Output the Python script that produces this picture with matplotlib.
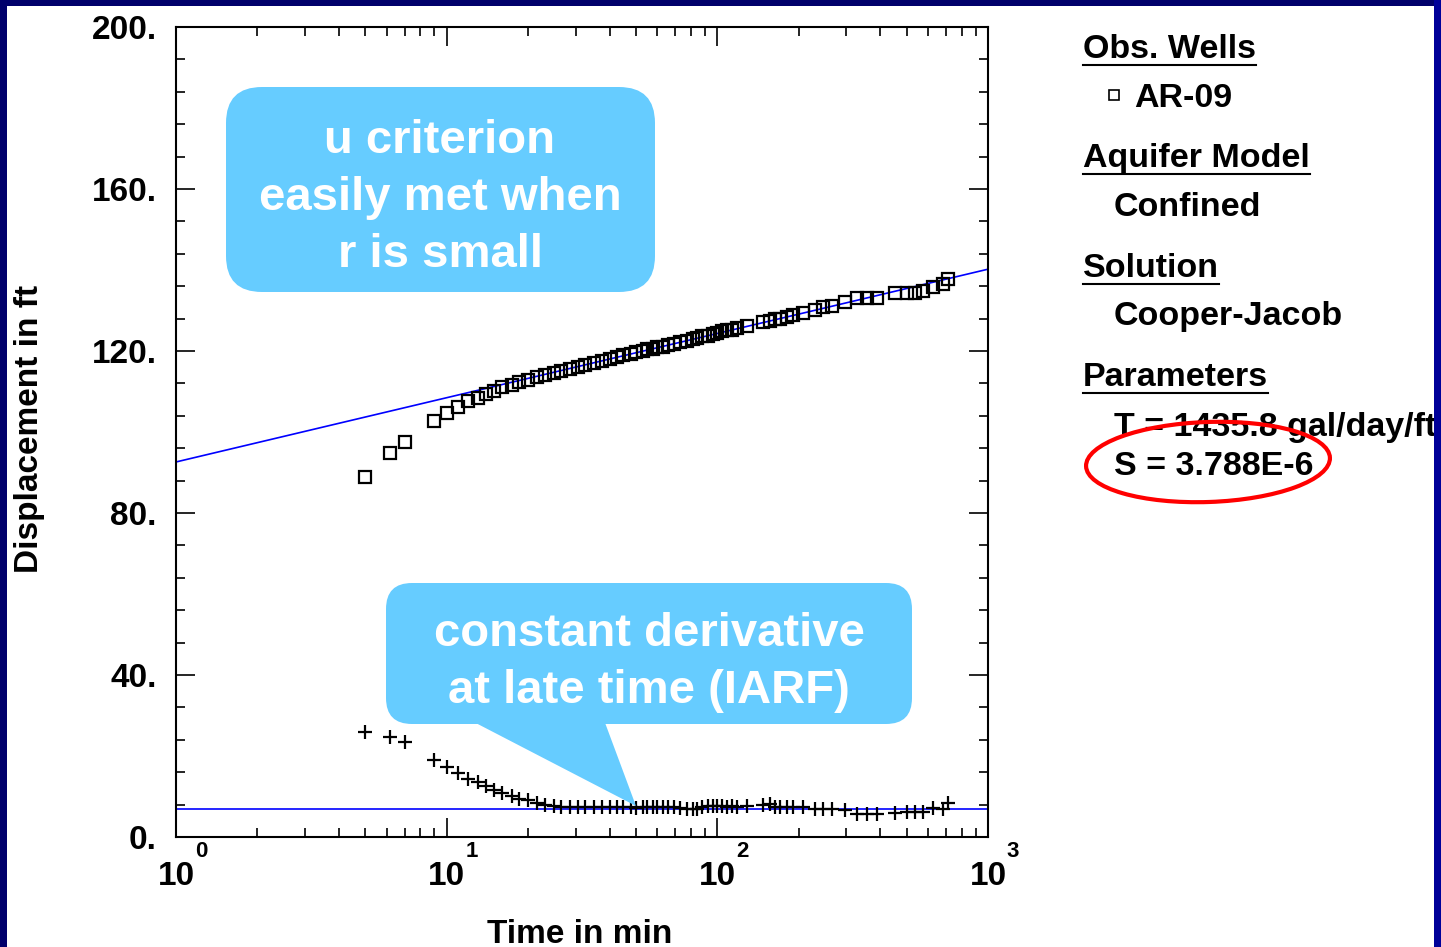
import matplotlib
matplotlib.use("Agg")
import matplotlib.pyplot as plt
from matplotlib.patches import FancyBboxPatch, Polygon, Rectangle, Ellipse
from matplotlib.lines import Line2D
from matplotlib.transforms import Affine2D, offset_copy
from matplotlib.ticker import FixedLocator, LogLocator, NullFormatter

# ---------------- data ----------------
time_min = [5, 6.2, 7, 9, 10, 11, 12, 13, 14, 15,
            16, 17.5, 18.5, 20, 21.5, 23, 25, 26.5, 28.5, 30.5,
            32.5, 35, 37.5, 40, 42.5, 45, 48, 50, 53, 55,
            58, 60, 63, 66, 69, 73, 77, 81, 84, 88,
            92, 96, 100, 104, 109, 113, 118, 129,
            148, 157, 163, 171, 181, 190, 207, 230, 246, 265,
            296, 328, 358, 389, 453, 502, 538, 575, 626, 682,
            711]
displacement = [88.9, 94.9, 97.5, 102.7, 104.6, 106.2, 107.7, 108.5, 109.3, 110.1,
                111.0, 111.7, 112.3, 112.9, 113.5, 114.0, 114.6, 115.1, 115.6, 116.0,
                116.5, 117.0, 117.6, 118.1, 118.5, 119.0, 119.3, 119.7, 120.0, 120.4,
                120.6, 121.0, 121.1, 121.5, 121.8, 122.3, 122.5, 122.9, 123.3, 123.6,
                123.8, 124.2, 124.5, 124.9, 125.1, 125.3, 125.6, 126.1,
                127.2, 127.5, 127.8, 128.0, 128.4, 128.9, 129.5, 130.2, 130.8, 131.2,
                132.2, 133.0, 133.2, 133.2, 134.2, 134.2, 134.3, 134.9, 135.9, 136.5,
                137.8]
derivative = [26.0, 24.8, 23.4, 19.0, 17.4, 15.7, 14.3, 13.5, 12.6, 11.6,
              10.8, 10.1, 9.3, 9.1, 8.5, 7.9, 7.7, 7.4, 7.3, 7.3,
              7.3, 7.3, 7.3, 7.3, 7.3, 7.3, 7.3, 7.2, 7.4, 7.3,
              7.3, 7.3, 7.3, 7.3, 7.3, 7.2, 7.0, 6.8, 6.9, 7.3,
              7.6, 7.6, 7.7, 7.6, 7.5, 7.6, 7.5, 7.6,
              7.8, 8.1, 7.5, 7.4, 7.4, 7.4, 7.5, 6.9, 6.8, 6.9,
              6.7, 5.8, 5.8, 5.8, 5.9, 6.2, 6.2, 6.2, 7.2, 6.8,
              8.3]
fit_time = [1, 1000]
fit_displacement = [92.6, 140.2]
fit_derivative = [6.9, 6.9]

y_ticks = [0, 40, 80, 120, 160, 200]
y_labels = ["0.", "40.", "80.", "120.", "160.", "200."]
x_ticks = [1, 10, 100, 1000]
x_exponents = ["0", "1", "2", "3"]

legend_items = [
    ("Obs. Wells", True), ("AR-09", False), ("Aquifer Model", True), ("Confined", False),
    ("Solution", True), ("Cooper-Jacob", False), ("Parameters", True),
    ("T = 1435.8 gal/day/ft", False), ("S = 3.788E-6", False),
]
callout1 = ["u criterion", "easily met when", "r is small"]
callout2 = ["constant derivative", "at late time (IARF)"]

# ---------------- figure ----------------
W, H = 1441, 947
plt.rcParams['font.family'] = ['Liberation Sans', 'DejaVu Sans']
plt.rcParams['font.weight'] = 'bold'
fig = plt.figure(figsize=(W / 100, H / 100), dpi=100, facecolor='white')
PX = Affine2D().scale(1, -1).translate(0, H)  # pixel coords from top-left

ax = fig.add_axes([176 / W, 1 - 837 / H, (988 - 176) / W, (837 - 27) / H])
ax.set_xscale('log')
ax.set_xlim(1, 1000)
ax.set_ylim(0, 200)

ax.plot(fit_time, fit_displacement, color='#0000ff', lw=1.2, zorder=2)
ax.plot(fit_time, fit_derivative, color='#0000ff', lw=1.2, zorder=2)
ax.plot(time_min, displacement, linestyle='none', marker='s', ms=8.5, mfc='none',
        mec='black', mew=1.6, zorder=3)
ax.plot(time_min, derivative, linestyle='none', marker='+', ms=10, mec='black',
        mew=1.6, zorder=3)

for sp in ax.spines.values():
    sp.set_linewidth(1.5)
ax.yaxis.set_major_locator(FixedLocator(y_ticks))
ax.yaxis.set_minor_locator(FixedLocator(list(range(0, 201, 8))))
ax.xaxis.set_major_locator(FixedLocator(x_ticks))
ax.xaxis.set_minor_locator(LogLocator(base=10, subs=[2, 3, 4, 5, 6, 7, 8, 9], numticks=20))
ax.xaxis.set_minor_formatter(NullFormatter())
ax.tick_params(which='both', direction='in', top=True, right=True, width=1.2)
ax.tick_params(which='major', length=14)
ax.tick_params(which='minor', length=6.5)
ax.set_yticklabels(y_labels, fontsize=24, fontweight='bold')
ax.tick_params(axis='y', pad=14)
ax.set_xticklabels([])

base_t = ax.get_xaxis_transform()
for xv, ex in zip(x_ticks, x_exponents):
    ax.text(xv, 0, "10", transform=offset_copy(base_t, fig, x=0, y=-39, units='dots'),
            ha='center', va='center', fontsize=24, fontweight='bold', clip_on=False)
    ax.text(xv, 0, ex, transform=offset_copy(base_t, fig, x=25, y=-14, units='dots'),
            ha='center', va='center', fontsize=16, fontweight='bold', clip_on=False)

fig.text(30 / W, 1 - 429 / H, "Displacement in ft", rotation=90, ha='center', va='center',
         fontsize=24, fontweight='bold')
fig.text(580 / W, 1 - 943 / H, "Time in min", ha='center', va='baseline',
         fontsize=24, fontweight='bold')

# ---------------- callouts ----------------
cb = '#66ccff'
fig.add_artist(FancyBboxPatch((226, 87), 655 - 226, 292 - 87,
                              boxstyle="round,pad=0,rounding_size=36",
                              transform=PX, fc=cb, ec='none', zorder=10))
for i, line in enumerate(callout1):
    fig.text(440 / W, 1 - (141 + 57 * i) / H, line, ha='center', va='center',
             color='white', fontsize=34, fontweight='bold', zorder=11)

fig.add_artist(FancyBboxPatch((386, 583), 912 - 386, 724 - 583,
                              boxstyle="round,pad=0,rounding_size=26",
                              transform=PX, fc=cb, ec='none', zorder=10))
fig.add_artist(Polygon([(470, 720), (636, 806), (604, 720)], closed=True,
                       transform=PX, fc=cb, ec='none', zorder=10))
for i, line in enumerate(callout2):
    fig.text(649 / W, 1 - (634 + 57 * i) / H, line, ha='center', va='center',
             color='white', fontsize=34, fontweight='bold', zorder=11)

# ---------------- legend panel ----------------
baselines = [58, 107, 167, 216, 277, 325, 386, 436, 475]
fig.canvas.draw()
renderer = fig.canvas.get_renderer()
for (txt, head), yb in zip(legend_items, baselines):
    x0 = 1083 if head else (1134 if txt == "AR-09" else 1114)
    t = fig.text(x0 / W, 1 - yb / H, txt, ha='left', va='baseline', fontsize=24.5,
                 fontweight='bold', color='black', zorder=11)
    if head:
        bb = t.get_window_extent(renderer)
        fig.add_artist(Line2D([bb.x0, bb.x1], [H - (yb + 7)] * 2,
                              transform=Affine2D(), color='black', lw=1.5, zorder=11))
fig.add_artist(Line2D([1114], [95], transform=PX, marker='s', ms=7, mfc='none',
                      mec='black', mew=1.2, zorder=11))
fig.add_artist(Ellipse((1208, 462), 244, 80, angle=-2, transform=PX, fc='none',
                       ec='#ff0000', lw=3, zorder=12))

# ---------------- frame ----------------
fig.add_artist(Rectangle((0, 0), W, 6, transform=PX, fc='#00006b', ec='none', zorder=20))
fig.add_artist(Rectangle((0, 0), 7, H, transform=PX, fc='#00006b', ec='none', zorder=20))
fig.add_artist(Rectangle((1434, 0), 7, H, transform=PX, fc='#000099', ec='none', zorder=20))

fig.savefig("out.png", dpi=100, facecolor='white')
